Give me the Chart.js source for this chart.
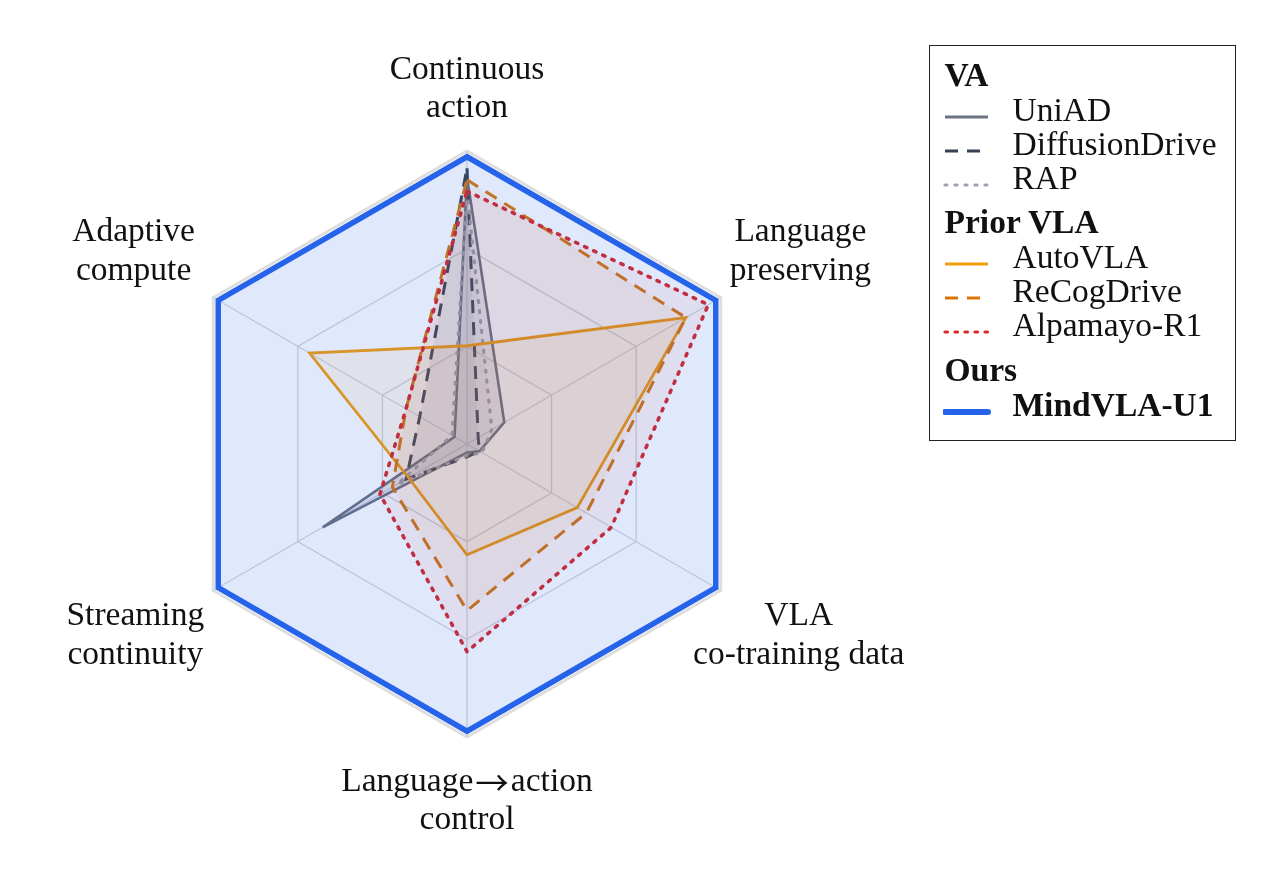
<!DOCTYPE html>
<html>
<head>
<meta charset="utf-8">
<script src="https://cdn.jsdelivr.net/npm/chart.js@4.4.1/dist/chart.umd.min.js"></script>
<style>
  html, body { margin: 0; padding: 0; background: #fff; }
  #wrap { position: relative; width: 1272px; height: 870px; }
  #radar { position: absolute; left: 0; top: 0; }
  #legend {
    position: absolute; left: 929px; top: 45px; width: 307px; height: 396px;
    box-sizing: border-box; border: 1.5px solid #222;
    font-family: "Liberation Serif", serif; font-size: 33.5px; color: #111;
  }
  .row { position: absolute; height: 34px; line-height: 34px; white-space: nowrap; }
  .hdr { font-weight: bold; }
  .sample { position: absolute; }
</style>
</head>
<body>
<div id="wrap">
  <canvas id="radar" width="1272" height="870"></canvas>
  <div id="legend"></div>
</div>
<script>
// axes, clockwise from the top
const categories = [
  ["Continuous", "action"],
  ["Language", "preserving"],
  ["VLA", "co-training data"],
  ["Language\u2192action", "control"],
  ["Streaming", "continuity"],
  ["Adaptive", "compute"],
];

const uniad = [0.93, 0.15, 0.05, 0.03, 0.58, 0.05];
const diffusionDrive = [0.96, 0.045, 0.05, 0.045, 0.245, 0.19];
const rap = [0.88, 0.10, 0.06, 0.04, 0.28, 0.06];
const autoVLA = [0.342, 0.88, 0.443, 0.386, 0.235, 0.633];
const reCogDrive = [0.92, 0.88, 0.48, 0.58, 0.30, 0.245];
const alpamayo = [0.88, 0.97, 0.58, 0.723, 0.35, 0.245];
const mindVLA = [1, 1, 1, 1, 1, 1];

const ringValues = [0, 0.34, 0.68, 1.02];

const groups = [
  { title: "VA", names: ["UniAD", "DiffusionDrive", "RAP"] },
  { title: "Prior VLA", names: ["AutoVLA", "ReCogDrive", "Alpamayo-R1"] },
  { title: "Ours", names: ["MindVLA-U1"] },
];

const styles = {
  "UniAD":          { data: uniad,          color: "#6b7280", width: 2.6, dash: [],        fill: 0.13, cap: "butt" },
  "DiffusionDrive": { data: diffusionDrive, color: "#374151", width: 3,   dash: [13, 9],   fill: 0.08, cap: "butt" },
  "RAP":            { data: rap,            color: "#9ca3af", width: 3.2, dash: [2, 8],    fill: 0.08, cap: "round" },
  "AutoVLA":        { data: autoVLA,        color: "#f59e0b", width: 2.8, dash: [],        fill: 0.08, cap: "butt" },
  "ReCogDrive":     { data: reCogDrive,     color: "#d97706", width: 3,   dash: [13, 9],   fill: 0.07, cap: "butt" },
  "Alpamayo-R1":    { data: alpamayo,       color: "#dc2626", width: 3.6, dash: [2.5, 7.5], fill: 0.06, cap: "round" },
  "MindVLA-U1":     { data: mindVLA,        color: "#2563eb", width: 5.5, dash: [],        fill: 0.14, cap: "butt" },
};

const names = Object.keys(styles);
const labelDist = [355, 385, 383, 357, 383, 385];
const lineH = 38.5;
const serif = '33.5px "Liberation Serif"';
const arrowFont = '33.5px "Noto Sans CJK JP"';

function hexA(hex, a) {
  const n = parseInt(hex.slice(1), 16);
  return `rgba(${n >> 16},${(n >> 8) & 255},${n & 255},${a})`;
}

const datasets = names.map((name, i) => {
  const s = styles[name];
  return {
    label: name,
    data: s.data,
    borderColor: s.color,
    backgroundColor: hexA(s.color, s.fill),
    borderWidth: s.width,
    borderDash: s.dash,
    borderCapStyle: s.cap,
    borderJoinStyle: "miter",
    fill: true,
    pointRadius: 0,
    order: names.length - i,
  };
});

// draws a line of text; a "→" gets a longer, thin arrow
function drawLine(ctx, text, cx, cy) {
  const parts = text.split("\u2192");
  if (parts.length === 1) {
    ctx.textAlign = "center";
    ctx.font = serif;
    ctx.fillText(text, cx, cy);
    return;
  }
  const pad = 2;
  ctx.font = serif;
  const w1 = ctx.measureText(parts[0]).width;
  const w2 = ctx.measureText(parts[1]).width;
  ctx.font = arrowFont;
  const wa = ctx.measureText("\u2192").width;
  let x = cx - (w1 + wa + w2 + 2 * pad) / 2;
  ctx.textAlign = "left";
  ctx.font = serif;
  ctx.fillText(parts[0], x, cy);
  x += w1 + pad;
  ctx.font = arrowFont;
  ctx.fillText("\u2192", x, cy + 1);
  x += wa + pad;
  ctx.font = serif;
  ctx.fillText(parts[1], x, cy);
}

const axisLabels = {
  id: "axisLabels",
  afterDraw(chart) {
    const r = chart.scales.r;
    const ctx = chart.ctx;
    ctx.save();
    ctx.fillStyle = "#111";
    ctx.textBaseline = "middle";
    categories.forEach((lines, i) => {
      const p = r.getPointPosition(i, labelDist[i]);
      lines.forEach((t, k) => {
        drawLine(ctx, t, p.x, p.y + (k - (lines.length - 1) / 2) * lineH);
      });
    });
    ctx.restore();
  },
};

new Chart(document.getElementById("radar"), {
  type: "radar",
  data: { labels: categories, datasets },
  options: {
    responsive: false,
    animation: false,
    layout: { padding: { left: 174, right: 512, top: 151, bottom: 133 } },
    plugins: { legend: { display: false }, tooltip: { enabled: false } },
    elements: { line: { tension: 0 } },
    scales: {
      r: {
        min: 0,
        max: 1.02,
        afterBuildTicks: (s) => { s.ticks = ringValues.map((v) => ({ value: v })); },
        ticks: { display: false },
        pointLabels: { display: false },
        grid: {
          color: (c) => (c.index === 3 ? "#dedede" : "#d3d6dc"),
          lineWidth: (c) => (c.index === 3 ? 3 : 1.3),
        },
        angleLines: { color: "#d3d6dc", lineWidth: 1.3 },
      },
    },
  },
  plugins: [axisLabels],
});

// legend with group headers
const legend = document.getElementById("legend");
const ox = 930.5, oy = 46.5;
let y = 75;
groups.forEach((g) => {
  const h = document.createElement("div");
  h.className = "row hdr";
  h.textContent = g.title;
  h.style.left = (945 - ox) + "px";
  h.style.top = (y - 17 - oy) + "px";
  legend.appendChild(h);
  y += 35;
  g.names.forEach((name, k) => {
    const s = styles[name];
    const bold = name === "MindVLA-U1";
    const svg = document.createElementNS("http://www.w3.org/2000/svg", "svg");
    svg.setAttribute("width", "48");
    svg.setAttribute("height", "14");
    svg.setAttribute("class", "sample");
    svg.style.left = (945 - 2 - ox) + "px";
    svg.style.top = (y - oy) + "px";
    const ln = document.createElementNS("http://www.w3.org/2000/svg", "line");
    ln.setAttribute("x1", "2");
    ln.setAttribute("x2", "45");
    ln.setAttribute("y1", "7");
    ln.setAttribute("y2", "7");
    ln.setAttribute("stroke", s.color);
    ln.setAttribute("stroke-width", bold ? "6" : "3.2");
    ln.setAttribute("stroke-linecap", bold ? "round" : s.cap);
    if (s.dash.length) ln.setAttribute("stroke-dasharray", s.dash.join(" "));
    svg.appendChild(ln);
    legend.appendChild(svg);

    const t = document.createElement("div");
    t.className = "row" + (bold ? " hdr" : "");
    t.textContent = name;
    t.style.left = (1013 - ox) + "px";
    t.style.top = (y - 17 - oy) + "px";
    legend.appendChild(t);
    y += k < g.names.length - 1 ? 34 : 44.5;
  });
});
</script>
</body>
</html>
